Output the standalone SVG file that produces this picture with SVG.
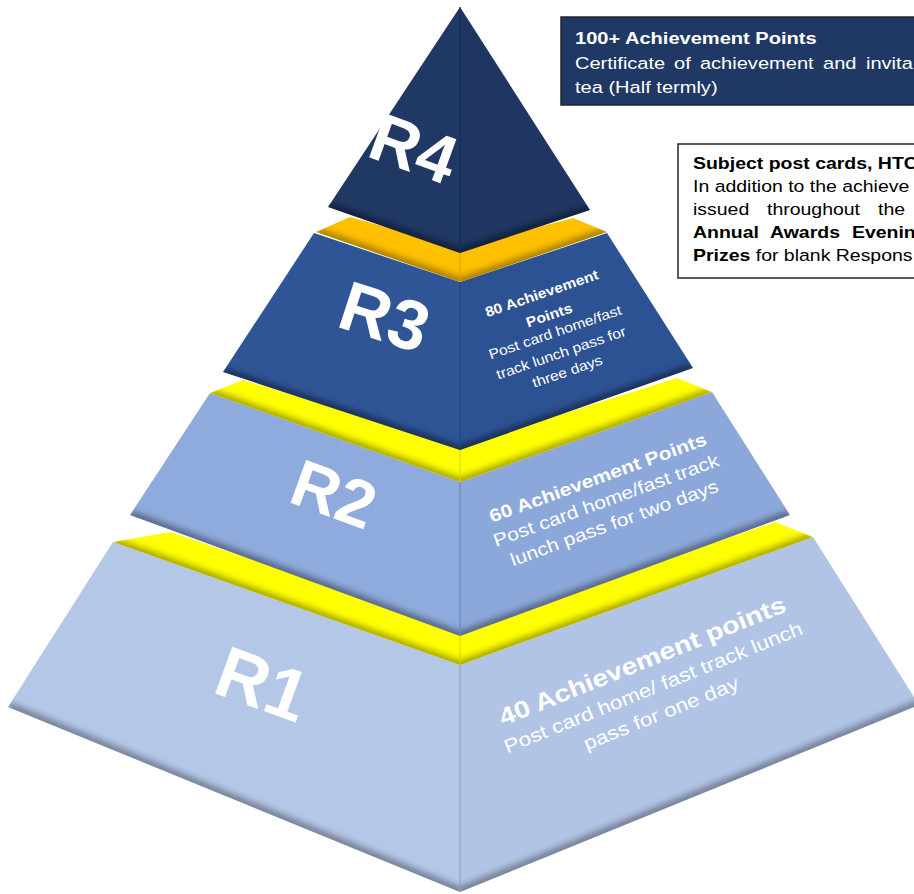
<svg xmlns="http://www.w3.org/2000/svg" width="914" height="894" viewBox="0 0 914 894">
<style>
  text { font-family: "Liberation Sans", Arial, sans-serif; }
  .lbl { fill: #ffffff; font-weight: bold; text-anchor: middle; }
  .ft { fill: #ffffff; text-anchor: middle; }
  .b { font-weight: bold; }
  .edge { fill: none; stroke: #000; stroke-linejoin: round; }
</style>
<defs>
  <filter id="soft" x="-10%" y="-10%" width="120%" height="120%"><feGaussianBlur stdDeviation="3"/></filter>
  <clipPath id="cR4"><polygon points="460,7 328,207 460,253 590,210"/></clipPath>
  <clipPath id="cR3"><polygon points="314,233 223,372 460,450 693,368 607,233 460,282"/></clipPath>
  <clipPath id="cR2"><polygon points="210,393 130,515 460,636 790,515 712,392 460,482"/></clipPath>
  <clipPath id="cR1"><polygon points="113,542 8,707 460,892 919,705 813,537 460,665"/></clipPath>
  <clipPath id="cBO"><polygon points="316,232 350,217 460,248 573,218 607,232 460,282"/></clipPath>
  <clipPath id="cBY1"><polygon points="210,393 243,380 460,446 677,378 712,392 460,482"/></clipPath>
  <clipPath id="cBY2"><polygon points="113,542 170,532 460,630 775,522 813,537 460,665"/></clipPath>
</defs>
<rect width="914" height="894" fill="#ffffff"/>

<g id="r1">
  <polygon points="113,542 8,707 460,892 460,665" fill="#b4c7e7"/>
  <polygon points="460,665 460,892 919,705 813,537" fill="#b1c4e5"/>
  <polyline class="edge" points="8,707 460,892 919,705" stroke-width="10" stroke-opacity="0.35" filter="url(#soft)" clip-path="url(#cR1)"/>
  <line x1="460" y1="665" x2="460" y2="892" stroke="#8da3c8" stroke-width="1.2"/>
  <text class="lbl" font-size="72" transform="translate(263,683) rotate(20)" y="26">R1</text>
  <g transform="translate(653,687) rotate(-22) scale(1.18,1)" fill="#f4f7fc">
    <text class="ft b" font-size="24" y="-20">40 Achievement points</text>
    <text class="ft" font-size="19" y="7">Post card home/ fast track lunch</text>
    <text class="ft" font-size="19" y="34" x="-2">pass for one day</text>
  </g>
</g>

<g id="band-yellow-2">
  <polygon points="113,542 170,532 460,630 775,522 813,537 460,665" fill="#ffff00"/>
  <polyline class="edge" points="113,542 460,665 813,537" stroke-width="9" stroke-opacity="0.35" filter="url(#soft)" clip-path="url(#cBY2)"/>
  <line x1="460" y1="632" x2="460" y2="665" stroke="#d6d600" stroke-width="1"/>
</g>

<g id="r2">
  <polygon points="210,393 130,515 460,636 460,482" fill="#8faadc"/>
  <polygon points="460,482 460,636 790,515 712,392" fill="#8ca7d9"/>
  <polyline class="edge" points="130,515 460,636 790,515" stroke-width="9" stroke-opacity="0.4" filter="url(#soft)" clip-path="url(#cR2)"/>
  <line x1="460" y1="482" x2="460" y2="636" stroke="#6c88bd" stroke-width="1.2"/>
  <text class="lbl" font-size="66" transform="translate(334,494) rotate(20)" y="23">R2</text>
  <g transform="translate(606,500) rotate(-20) scale(1.17,1)">
    <text class="ft b" font-size="18" y="-17.5">60 Achievement Points</text>
    <text class="ft" font-size="18" y="6.5">Post card home/fast track</text>
    <text class="ft" font-size="18" y="30.5">lunch pass for two days</text>
  </g>
</g>

<g id="band-yellow-1">
  <polygon points="210,393 243,380 460,446 677,378 712,392 460,482" fill="#ffff00"/>
  <polyline class="edge" points="210,393 460,482 712,392" stroke-width="9" stroke-opacity="0.35" filter="url(#soft)" clip-path="url(#cBY1)"/>
  <line x1="460" y1="450" x2="460" y2="482" stroke="#d6d600" stroke-width="1"/>
</g>

<g id="r3">
  <polygon points="314,233 223,372 460,450 460,282" fill="#2f5597"/>
  <polygon points="460,282 460,450 693,368 607,233" fill="#2d5293"/>
  <polyline class="edge" points="223,372 460,450 693,368" stroke-width="9" stroke-opacity="0.45" filter="url(#soft)" clip-path="url(#cR3)"/>
  <line x1="460" y1="282" x2="460" y2="450" stroke="#23467f" stroke-width="1.2"/>
  <text class="lbl" font-size="70" transform="translate(385,316) rotate(18)" y="25">R3</text>
  <g transform="translate(555,332) rotate(-19) scale(1.12,1)">
    <text class="ft b" font-size="14" y="-36">80 Achievement</text>
    <text class="ft b" font-size="14" y="-13">Points</text>
    <text class="ft" font-size="14" y="5">Post card home/fast</text>
    <text class="ft" font-size="14" y="26.5" x="-1">track lunch pass for</text>
    <text class="ft" font-size="14" y="46" x="-1">three days</text>
  </g>
</g>

<g id="band-orange">
  <polygon points="316,232 350,217 460,248 573,218 607,232 460,282" fill="#ffc000"/>
  <polyline class="edge" points="316,232 460,282 607,232" stroke-width="9" stroke-opacity="0.35" filter="url(#soft)" clip-path="url(#cBO)"/>
  <line x1="460" y1="253" x2="460" y2="282" stroke="#d9a300" stroke-width="1"/>
</g>

<g id="r4">
  <polygon points="460,7 328,207 460,253" fill="#203864"/>
  <polygon points="460,7 460,253 590,210" fill="#1e3661"/>
  <polyline class="edge" points="328,207 460,253 590,210" stroke-width="9" stroke-opacity="0.45" filter="url(#soft)" clip-path="url(#cR4)"/>
  <line x1="460" y1="7" x2="460" y2="253" stroke="#182e54" stroke-width="1.2"/>
  <text class="lbl" font-size="68" transform="translate(414,148) rotate(20)" y="24">R4</text>
</g>

<g id="box-top">
  <rect x="561" y="17" width="380" height="88" fill="#1f3864" stroke="#262626" stroke-width="1.5"/>
  <g transform="translate(575,0) scale(1.18,1)" fill="#ffffff" font-size="17">
    <text class="b" x="0" y="44">100+ Achievement Points</text>
    <text x="0" y="69">Certificate</text>
    <text x="83.9" y="69">of</text>
    <text x="105.9" y="69">achievement</text>
    <text x="210.2" y="69">and</text>
    <text x="246.6" y="69">invita</text>
    <text x="0" y="93">tea (Half termly)</text>
  </g>
</g>

<g id="box-right">
  <rect x="678" y="144" width="300" height="134" fill="#ffffff" stroke="#262626" stroke-width="1.5"/>
  <g transform="translate(693,0) scale(1.18,1)" fill="#000000" font-size="16.5">
    <text class="b" x="0" y="169">Subject post cards, HTC</text>
    <text x="0" y="192">In addition to the achieve</text>
    <text x="0" y="215">issued</text>
    <text x="62.7" y="215">throughout</text>
    <text x="156.8" y="215">the</text>
    <text class="b" x="0" y="238">Annual</text>
    <text class="b" x="65.3" y="238">Awards</text>
    <text class="b" x="134.7" y="238">Evenin</text>
    <text x="0" y="261"><tspan class="b">Prizes</tspan> for blank Respons</text>
  </g>
</g>
</svg>
